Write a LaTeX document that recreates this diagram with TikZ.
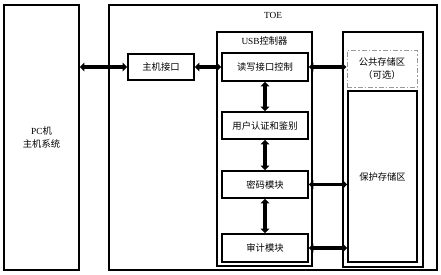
\documentclass[tikz,border=0pt]{standalone}
\usepackage{fontspec}
\setmainfont{Liberation Serif}
\newfontfamily\cjk{Noto Sans CJK SC}
\usetikzlibrary{arrows.meta}
\begin{document}
\begin{tikzpicture}[x=1pt,y=-1pt,
  box/.style={draw=black,line width=1.1pt,fill=white,inner sep=0pt,align=center,font=\fontsize{9.3}{12.5}\selectfont},
  txt/.style={inner sep=0pt,font=\fontsize{9.3}{12.5}\selectfont,align=center},
  dar/.style={line width=3.8pt,{Triangle[width=8.5pt,length=4.5pt]}-{Triangle[width=8.5pt,length=4.5pt]},shorten <=0.3pt,shorten >=0.3pt}]
\useasboundingbox (0,0) rectangle (441,274);
% outer boxes
\node[box,minimum width=75pt,minimum height=265pt] (pc) at (41.5,137.5) {PC{\cjk 机}\\{\cjk 主机系统}};
\node[box,minimum width=328pt,minimum height=265pt] (toe) at (273,137.5) {};
\node[txt] (toelab) at (273,15) {TOE};
\node[box,minimum width=66pt,minimum height=26pt] (hi) at (161,67) {\cjk 主机接口};
\node[box,minimum width=95pt,minimum height=234pt] (usb) at (264.5,149) {};
\node[txt] (usblab) at (264.5,40.5) {USB{\cjk 控制器}};
\node[box,minimum width=86pt,minimum height=28pt] (rw) at (265,67) {\cjk 读写接口控制};
\node[box,minimum width=86pt,minimum height=27pt] (auth) at (265,125.5) {\cjk 用户认证和鉴别};
\node[box,minimum width=86pt,minimum height=27pt] (mima) at (265,184.5) {\cjk 密码模块};
\node[box,minimum width=86pt,minimum height=28pt] (audit) at (265,248) {\cjk 审计模块};
\node[box,minimum width=80pt,minimum height=235pt] (store) at (383,149.5) {};
\node[box,draw=gray!80,line width=0.8pt,dash pattern=on 5pt off 2pt on 1.5pt off 2pt,minimum width=70pt,minimum height=37pt] (pub) at (382,68.5) {{\cjk 公共存储区}\\{\cjk （可选）}};
\node[box,minimum width=69pt,minimum height=171pt] (prot) at (382.5,176.5) {\cjk 保护存储区};
% connectors
\draw[dar] (hi.west) -- (hi.west -| pc.east);
\draw[dar] (hi.east) -- (rw.west);
\draw[dar] (rw.east) -- (rw.east -| pub.west);
\draw[dar] (rw.south) -- (auth.north);
\draw[dar] (auth.south) -- (mima.north);
\draw[dar] (mima.south) -- (audit.north);
\draw[dar] (mima.east) -- (mima.east -| prot.west);
\draw[dar] (audit.east) -- (audit.east -| prot.west);
\end{tikzpicture}
\end{document}
